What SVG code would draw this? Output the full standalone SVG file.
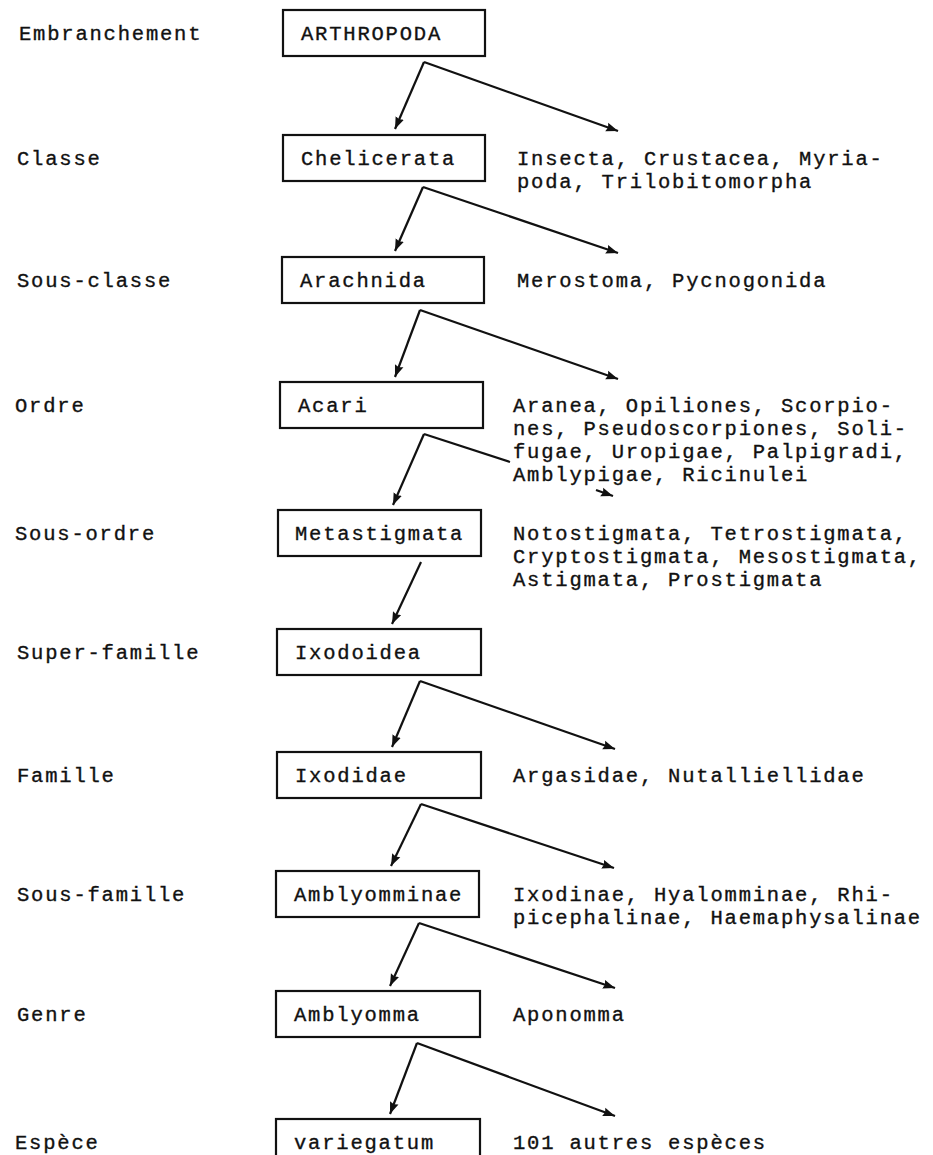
<svg xmlns="http://www.w3.org/2000/svg" width="933" height="1155" viewBox="0 0 933 1155">
<style>
text{font-family:"Liberation Mono","DejaVu Sans Mono",monospace;font-size:20.5px;letter-spacing:1.8px;fill:#111;stroke:#111;stroke-width:0.35px}
.box{fill:#fff;stroke:#111;stroke-width:2.2}
.con{stroke:#111;stroke-width:2.2;fill:none}
.arr{marker-end:url(#ah)}
</style>
<defs>
<marker id="ah" markerUnits="userSpaceOnUse" markerWidth="14" markerHeight="10" refX="12" refY="5" orient="auto">
<path d="M0,0.5 L12,5 L0,9.5 L1.5,5 z" fill="#111"/>
</marker>
</defs>
<rect width="933" height="1155" fill="#fff"/>

<g id="levels">
<text x="19" y="40">Embranchement</text>
<text x="17" y="165">Classe</text>
<text x="17" y="287">Sous-classe</text>
<text x="15" y="412">Ordre</text>
<text x="15" y="540">Sous-ordre</text>
<text x="17" y="659">Super-famille</text>
<text x="17" y="782">Famille</text>
<text x="17" y="901">Sous-famille</text>
<text x="17" y="1021">Genre</text>
<text x="15" y="1149">Espèce</text>
</g>

<g id="connectors">
<line class="con arr" x1="424" y1="62" x2="395" y2="129"/>
<line class="con arr" x1="424" y1="62" x2="618" y2="131"/>
<line class="con arr" x1="423" y1="187" x2="395" y2="251"/>
<line class="con arr" x1="423" y1="187" x2="618" y2="253"/>
<line class="con arr" x1="420" y1="310" x2="395" y2="377"/>
<line class="con arr" x1="420" y1="310" x2="618" y2="379"/>
<line class="con arr" x1="424" y1="434" x2="393" y2="505"/>
<line class="con" x1="424" y1="434" x2="510" y2="462"/>
<line class="con arr" x1="596" y1="490" x2="613" y2="496"/>
<line class="con arr" x1="421" y1="562" x2="392" y2="624"/>
<line class="con arr" x1="420" y1="681" x2="392" y2="747"/>
<line class="con arr" x1="420" y1="681" x2="615" y2="749"/>
<line class="con arr" x1="421" y1="804" x2="391" y2="866"/>
<line class="con arr" x1="421" y1="804" x2="614" y2="868"/>
<line class="con arr" x1="419" y1="923" x2="390" y2="986"/>
<line class="con arr" x1="419" y1="923" x2="615" y2="988"/>
<line class="con arr" x1="417" y1="1043" x2="390" y2="1114"/>
<line class="con arr" x1="417" y1="1043" x2="615" y2="1116"/>
</g>

<g id="n1">
<rect class="box" x="283" y="10" width="202" height="46"/>
<text x="301" y="40">ARTHROPODA</text>
</g>
<g id="n2">
<rect class="box" x="283" y="135" width="202" height="46"/>
<text x="301" y="165">Chelicerata</text>
<text x="517" y="165">Insecta, Crustacea, Myria-</text>
<text x="517" y="188">poda, Trilobitomorpha</text>
</g>
<g id="n3">
<rect class="box" x="282" y="257" width="202" height="46"/>
<text x="300" y="287">Arachnida</text>
<text x="517" y="287">Merostoma, Pycnogonida</text>
</g>
<g id="n4">
<rect class="box" x="280" y="382" width="203" height="46"/>
<text x="298" y="412">Acari</text>
<text x="513" y="412">Aranea, Opiliones, Scorpio-</text>
<text x="513" y="435">nes, Pseudoscorpiones, Soli-</text>
<text x="513" y="458">fugae, Uropigae, Palpigradi,</text>
<text x="513" y="481">Amblypigae, Ricinulei</text>
</g>
<g id="n5">
<rect class="box" x="278" y="510" width="203" height="46"/>
<text x="295" y="540">Metastigmata</text>
<text x="513" y="540">Notostigmata, Tetrostigmata,</text>
<text x="513" y="563">Cryptostigmata, Mesostigmata,</text>
<text x="513" y="586">Astigmata, Prostigmata</text>
</g>
<g id="n6">
<rect class="box" x="277" y="629" width="204" height="46"/>
<text x="295" y="659">Ixodoidea</text>
</g>
<g id="n7">
<rect class="box" x="277" y="752" width="204" height="46"/>
<text x="295" y="782">Ixodidae</text>
<text x="513" y="782">Argasidae, Nutalliellidae</text>
</g>
<g id="n8">
<rect class="box" x="276" y="871" width="203" height="46"/>
<text x="294" y="901">Amblyomminae</text>
<text x="513" y="901">Ixodinae, Hyalomminae, Rhi-</text>
<text x="513" y="924">picephalinae, Haemaphysalinae</text>
</g>
<g id="n9">
<rect class="box" x="276" y="991" width="204" height="46"/>
<text x="294" y="1021">Amblyomma</text>
<text x="513" y="1021">Aponomma</text>
</g>
<g id="n10">
<rect class="box" x="276" y="1119" width="204" height="50"/>
<text x="294" y="1149">variegatum</text>
<text x="513" y="1149">101 autres espèces</text>
</g>
</svg>
